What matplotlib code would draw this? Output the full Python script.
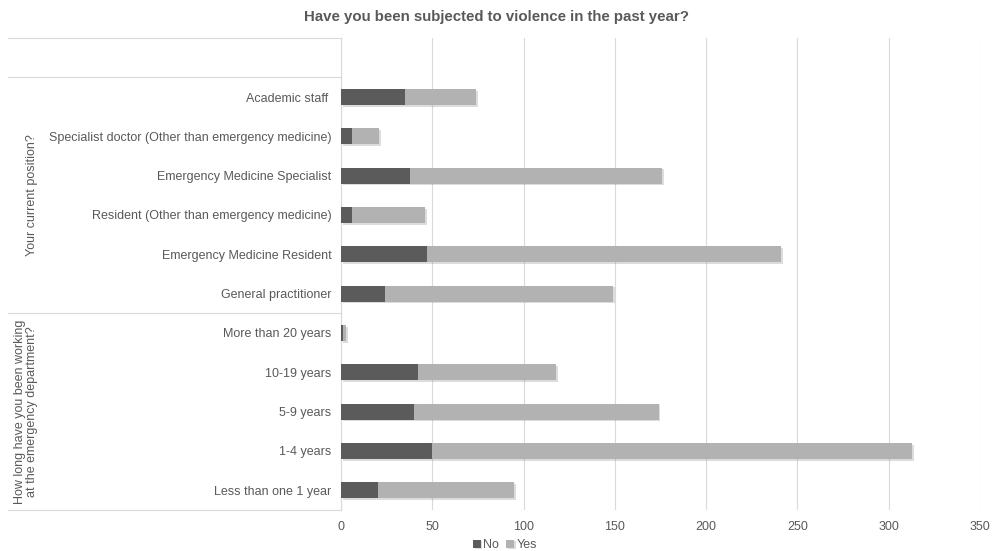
import numpy as np
import matplotlib.pyplot as plt
import matplotlib.patheffects as pe
from matplotlib.lines import Line2D

plt.rcParams['font.family'] = ['Liberation Sans', 'DejaVu Sans']

# categories, top to bottom
categories = [
    "Academic staff ",
    "Specialist doctor (Other than emergency medicine)",
    "Emergency Medicine Specialist",
    "Resident (Other than emergency medicine)",
    "Emergency Medicine Resident",
    "General practitioner",
    "More than 20 years",
    "10-19 years",
    "5-9 years",
    "1-4 years",
    "Less than one 1 year",
]
no_values = [35, 6, 38, 6, 47, 24, 1, 42, 40, 50, 20]
totals = [74, 21, 176, 46, 241, 149, 3, 118, 174, 313, 95]
yes_values = [t - n for t, n in zip(totals, no_values)]

groups = ["Your current position?",
          "How long have you been working\nat the emergency department?"]
group_sizes = [6, 5]

title = "Have you been subjected to violence in the past year?"

c_no = '#5b5b5b'
c_yes = '#b2b2b2'
c_text = '#595959'
c_line = '#d9d9d9'

fig = plt.figure(figsize=(9.92, 5.51), dpi=100)
ax = fig.add_axes([341 / 992, 1 - 510 / 551, (980 - 341) / 992, (510 - 38) / 551])

n = len(categories)
y = np.arange(n)[::-1]  # top row first
shadow = [pe.SimplePatchShadow(offset=(1.2, -1.2), alpha=0.25, shadow_rgbFace='#777777'), pe.Normal()]
b1 = ax.barh(y, no_values, height=0.41, color=c_no, label='No', zorder=3)
b2 = ax.barh(y, yes_values, left=no_values, height=0.41, color=c_yes, label='Yes', zorder=3)
for b in list(b1) + list(b2):
    b.set_path_effects(shadow)

ax.set_xlim(0, 350)
ax.set_ylim(-0.5, n + 0.5)
ax.set_xticks(np.arange(0, 351, 50))
ax.set_yticks(y)
ax.set_yticklabels(categories)
ax.tick_params(axis='both', length=0, labelsize=9, labelcolor=c_text)
ax.tick_params(axis='y', pad=7)
ax.tick_params(axis='x', pad=8)
ax.grid(axis='x', color=c_line, linewidth=0.8, zorder=0)
for s in ['top', 'right', 'bottom']:
    ax.spines[s].set_visible(False)
ax.spines['left'].set_color(c_line)
ax.spines['left'].set_linewidth(0.8)

# category group separators on the left
tr = ax.get_yaxis_transform()
x_left = -(341 - 8) / (980 - 341)
bounds = [n + 0.5, n - 0.5]
acc = n - 0.5
for size in group_sizes:
    acc -= size
    bounds.append(acc)
for yb in bounds:
    ax.add_line(Line2D([x_left, 0], [yb, yb], transform=tr, color=c_line,
                       linewidth=0.8, clip_on=False))

x_group = -(341 - 38) / (980 - 341)
for i, g in enumerate(groups):
    mid = (bounds[i + 1] + bounds[i + 2]) / 2
    ax.text(x_group, mid, g, transform=tr, rotation=90, ha='right',
            va='center', fontsize=9, color=c_text, linespacing=0.95,
            multialignment='center')

fig.suptitle(title, y=1 - 17 / 551, va='center', fontsize=10.8, fontweight='bold', color=c_text)

leg = fig.legend(handles=[b1, b2], loc='center', bbox_to_anchor=(505 / 992, 1 - 545 / 551),
                 ncol=2, frameon=False, fontsize=9, handlelength=0.6, handleheight=0.6,
                 handletextpad=0.2, columnspacing=0.6, labelcolor=c_text)

fig.savefig('out.png', dpi=100)
